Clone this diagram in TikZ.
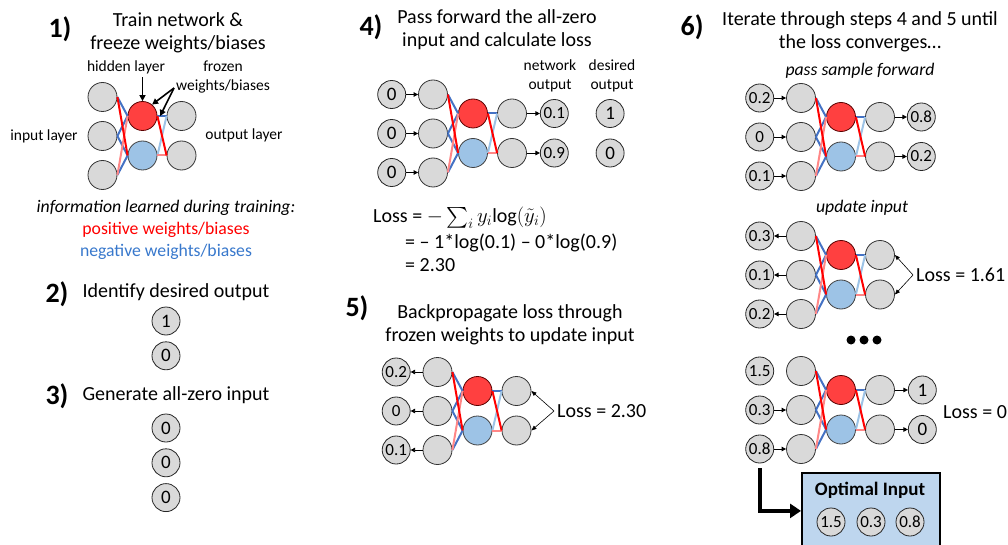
\documentclass[tikz,border=0pt]{standalone}
\usepackage{amsmath}
\usepackage{fontspec}
\setmainfont{Carlito}
\usepackage{tikz}
\usetikzlibrary{arrows.meta, positioning}

\definecolor{posred}{RGB}{255,0,0}
\definecolor{posredl}{RGB}{255,135,135}
\definecolor{nodered}{RGB}{255,64,64}
\definecolor{negblue}{RGB}{68,114,196}
\definecolor{negbluel}{RGB}{157,195,230}
\definecolor{boxblue}{RGB}{190,214,238}
\definecolor{txtblue}{RGB}{56,120,204}

\tikzset{
  neuron/.style={circle, draw=black!80, fill=black!15, line width=0.8pt,
                 minimum size=29pt, inner sep=0pt},
  hidpos/.style={neuron, fill=nodered, draw=red!35!black},
  hidneg/.style={neuron, fill=negbluel, draw=black!75},
  valnode/.style={circle, draw=black!85, fill=black!15, line width=0.8pt,
                  minimum size=28pt, inner sep=0pt,
                  font=\fontsize{17}{17}\selectfont},
  digit/.style={font=\fontsize{19}{19}\selectfont},
  wpos/.style={draw=posred, line width=2pt},
  wposl/.style={draw=posredl, line width=2pt},
  wneg/.style={draw=negblue, line width=2pt},
  wnegl/.style={draw=negbluel, line width=2pt},
  feed/.style={-{Triangle[length=4.5pt,width=4.5pt]}, line width=0.8pt},
  lossarrow/.style={-{Triangle[length=5pt,width=4pt]}, line width=0.6pt},
  callout/.style={-{Triangle[length=6pt,width=6pt]}, line width=1.6pt},
  bigarrow/.style={-{Triangle[length=11pt,width=14pt]}, line width=4pt},
  stepnum/.style={font=\bfseries\fontsize{28}{28}\selectfont},
  title/.style={align=center, font=\fontsize{20}{23}\selectfont},
  lbl/.style={align=center, font=\fontsize{15.5}{19}\selectfont},
  note/.style={align=center, font=\itshape\fontsize{17.7}{19}\selectfont},
  legend/.style={align=center, font=\fontsize{17.7}{19}\selectfont},
  eqn/.style={anchor=west, inner sep=3pt, font=\fontsize{20}{22}\selectfont},
  losslbl/.style={eqn},
  net/.pic={
    \node[neuron] (-i1) at (0,-39) {};
    \node[neuron] (-i2) at (0,0) {};
    \node[neuron] (-i3) at (0,39) {};
    \node[hidpos] (-h1) at (40,-20) {};
    \node[hidneg] (-h2) at (40,19.5) {};
    \node[neuron] (-o1) at (79,-20) {};
    \node[neuron] (-o2) at (79,19.5) {};
    % negative weights first, positive on top
    \draw[wneg]  (-i1.east) -- (-h1.west);
    \draw[wneg]  (-i2.east) -- (-h1.west);
    \draw[wneg]  (-i2.east) -- (-h2.west);
    \draw[wneg]  (-i3.east) -- (-h2.west);
    \draw[wneg]  (-h1.east) -- (-o1.west);
    \draw[wnegl] (-h2.east) -- (-o1.west);
    \draw[wposl] (-i3.east) -- (-h1.west);
    \draw[wpos]  (-i1.east) -- (-h2.west);
    \draw[wposl] (-h2.east) -- (-o2.west);
    \draw[wpos]  (-h1.east) -- (-o2.west);
  },
}

\begin{document}
\begin{tikzpicture}[x=1pt, y=-1pt]
  \useasboundingbox (0,0) rectangle (1008,545);

  % 1) train network
  \node[stepnum] (s1) at (60,29) {1)};
  \node[title] (t1) at (178,33) {Train network \&\\freeze weights/biases};
  \pic (net1) at (102.5,136) {net};
  \node[lbl] (hidlbl) at (126,67) {hidden layer};
  \node[lbl] (frzlbl) at (223,77) {frozen\\weights/biases};
  \node[lbl] (inlbl) at (44,136) {input layer};
  \node[lbl] (outlbl) at (244,135) {output layer};
  \draw[callout] (hidlbl.south -| net1-h1) -- (net1-h1.north);
  \coordinate (frzsrc) at (174,88);
  \path (net1-h1.east) -- (net1-o1.west) coordinate[pos=0.3] (frzw);
  \draw[callout] (frzsrc) -- (net1-h1.50);
  \draw[callout] (frzsrc) -- (frzw);

  \node[note] (info) at (166,208) {information learned during training:};
  \node[legend, text=posred] (pos) at (166,230) {positive weights/biases};
  \node[legend, text=txtblue] (neg) at (166,252) {negative weights/biases};

  % 2) desired output
  \node[stepnum] (s2) at (57,294) {2)};
  \node[title] (t2) at (176,292) {Identify desired output};
  \node[valnode, digit] (tg1) at (166,321) {1};
  \node[valnode, digit, below=6pt of tg1] (tg2) {0};

  % 3) all-zero input
  \node[stepnum] (s3) at (57,396) {3)};
  \node[title] (t3) at (176,395) {Generate all-zero input};
  \node[valnode, digit] (g1) at (166,428) {0};
  \node[valnode, digit, below=6pt of g1] (g2) {0};
  \node[valnode, digit, below=6pt of g2] (g3) {0};

  % 4) forward pass
  \node[stepnum] (s4) at (371,27) {4)};
  \node[title] (t4) at (497,30) {Pass forward the all-zero\\input and calculate loss};
  \pic (fwd) at (433,133.5) {net};
  \node[valnode, digit, left=12pt of fwd-i1] (z1) {0};
  \node[valnode, digit, left=12pt of fwd-i2] (z2) {0};
  \node[valnode, digit, left=12pt of fwd-i3] (z3) {0};
  \node[valnode, right=13pt of fwd-o1] (y1) {0.1};
  \node[valnode, right=13pt of fwd-o2] (y2) {0.9};
  \node[valnode, digit, right=27pt of y1] (d1) {1};
  \node[valnode, digit, right=27pt of y2] (d2) {0};
  \node[lbl] (netout) at (550,76) {network\\output};
  \node[lbl] (desout) at (612,76) {desired\\output};
  \draw[feed] (z1) -- (fwd-i1);
  \draw[feed] (z2) -- (fwd-i2);
  \draw[feed] (z3) -- (fwd-i3);
  \draw[feed] (fwd-o1) -- (y1);
  \draw[feed] (fwd-o2) -- (y2);

  \node[eqn] (eq1) at (370,218) {Loss = $-\textstyle\sum_i y_i\mathrm{log}(\tilde{y}_i)$};
  \node[eqn] (eq2) at (402,243) {= – 1*log(0.1) – 0*log(0.9)};
  \node[eqn] (eq3) at (402,265) {= 2.30};

  % 5) backpropagate
  \node[stepnum] (s5) at (357,308) {5)};
  \node[title] (t5) at (510,325) {Backpropagate loss through\\frozen weights to update input};
  \pic (back) at (437.5,411) {net};
  \node[valnode, left=12pt of back-i1] (u1) {0.2};
  \node[valnode, left=12pt of back-i2] (u2) {0};
  \node[valnode, left=12pt of back-i3] (u3) {0.1};
  \draw[feed] (back-i1) -- (u1);
  \draw[feed] (back-i2) -- (u2);
  \draw[feed] (back-i3) -- (u3);
  \node[losslbl] (loss5) at (554,411) {Loss = 2.30};
  \draw[lossarrow] (loss5.west) -- (back-o1.east);
  \draw[lossarrow] (loss5.west) -- (back-o2.east);

  % 6) iterate
  \node[stepnum] (s6) at (692,27) {6)};
  \node[title] (t6) at (860,32) {Iterate through steps 4 and 5 until\\the loss converges…};

  \node[note] (passlbl) at (860,71) {pass sample forward};
  \pic (itA) at (801,137) {net};
  \node[valnode, left=12pt of itA-i1] (a1) {0.2};
  \node[valnode, left=12pt of itA-i2] (a2) {0};
  \node[valnode, left=12pt of itA-i3] (a3) {0.1};
  \node[valnode, right=12pt of itA-o1] (ao1) {0.8};
  \node[valnode, right=12pt of itA-o2] (ao2) {0.2};
  \draw[feed] (a1) -- (itA-i1);
  \draw[feed] (a2) -- (itA-i2);
  \draw[feed] (a3) -- (itA-i3);
  \draw[feed] (itA-o1) -- (ao1);
  \draw[feed] (itA-o2) -- (ao2);

  \node[note] (updlbl) at (862,208) {update input};
  \pic (itB) at (801,275) {net};
  \node[valnode, left=12pt of itB-i1] (b1) {0.3};
  \node[valnode, left=12pt of itB-i2] (b2) {0.1};
  \node[valnode, left=12pt of itB-i3] (b3) {0.2};
  \draw[feed] (itB-i1) -- (b1);
  \draw[feed] (itB-i2) -- (b2);
  \draw[feed] (itB-i3) -- (b3);
  \node[losslbl] (lossB) at (913,275) {Loss = 1.61};
  \draw[lossarrow] (lossB.west) -- (itB-o1.east);
  \draw[lossarrow] (lossB.west) -- (itB-o2.east);

  \foreach \x in {851,864,877} \fill (\x,340) circle (4.5);

  \pic (itC) at (801,410) {net};
  \node[valnode, left=12pt of itC-i1] (c1) {1.5};
  \node[valnode, left=12pt of itC-i2] (c2) {0.3};
  \node[valnode, left=12pt of itC-i3] (c3) {0.8};
  \node[valnode, digit, right=13pt of itC-o1] (co1) {1};
  \node[valnode, digit, right=13pt of itC-o2] (co2) {0};
  \draw[feed] (c2) -- (itC-i2);
  \draw[feed] (c3) -- (itC-i3);
  \draw[feed] (itC-o1) -- (co1);
  \draw[feed] (itC-o2) -- (co2);
  \node[losslbl] (lossC) at (940,412) {Loss = 0};

  % optimal input box
  \node[draw=black, line width=1.8pt, fill=boxblue, anchor=north west,
        minimum width=138pt, minimum height=76pt] (optbox) at (801,472) {};
  \node[font=\bfseries\fontsize{19}{19}\selectfont] (optttl) at (870,490) {Optimal Input};
  \node[valnode] (opt1) at (831,522) {1.5};
  \node[valnode] (opt2) at (871,522) {0.3};
  \node[valnode] (opt3) at (910,522) {0.8};
  \draw[bigarrow] ([yshift=-5pt]c3.south) |- (optbox.west);
\end{tikzpicture}
\end{document}
